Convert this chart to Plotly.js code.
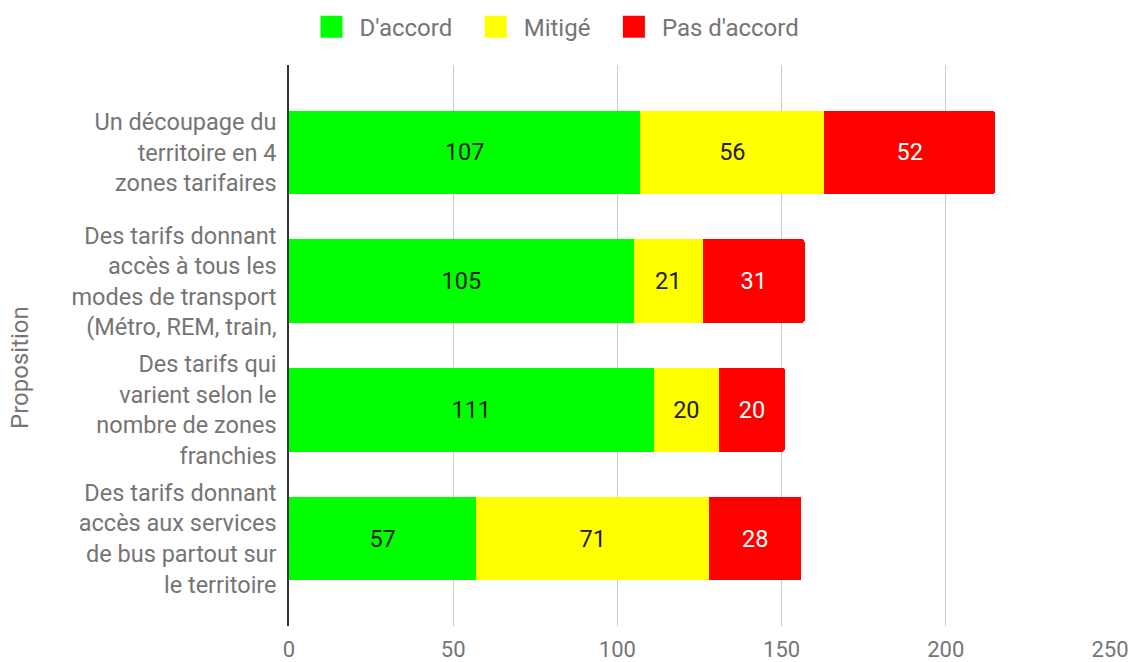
<!DOCTYPE html>
<html>
<head>
<meta charset="utf-8">
<script src="https://cdn.plot.ly/plotly-3.0.1.min.js"></script>
<style>
  html, body { margin: 0; padding: 0; background: #fff; }
  #chart { width: 1131px; height: 662px; }
</style>
</head>
<body>
<div id="chart"></div>
<script>
// Propositions (category labels, line-broken as displayed)
const propositions = [
  "Un découpage du<br>territoire en 4<br>zones tarifaires",
  "Des tarifs donnant<br>accès à tous les<br>modes de transport<br>(Métro, REM, train,",
  "Des tarifs qui<br>varient selon le<br>nombre de zones<br>franchies",
  "Des tarifs donnant<br>accès aux services<br>de bus partout sur<br>le territoire"
];

// Responses per proposition
const daccord = [107, 105, 111, 57];
const mitige = [56, 21, 20, 71];
const pasDaccord = [52, 31, 20, 28];

const seriesNames = ["D'accord", "Mitigé", "Pas d'accord"];
const seriesColors = ["#00ff00", "#ffff00", "#ff0000"];
const textColors = ["#212121", "#212121", "#ffffff"];

const fontFamily = "Roboto, 'Noto Sans', sans-serif";
const grey = "#757575";

function makeTrace(values, i) {
  return {
    type: "bar",
    orientation: "h",
    name: seriesNames[i],
    y: propositions,
    x: values,
    marker: { color: seriesColors[i], line: { width: 0 } },
    text: values.map(String),
    textposition: "inside",
    insidetextanchor: "middle",
    textangle: 0,
    textfont: { family: fontFamily, size: 23.5, color: textColors[i] },
    hoverinfo: "x+name"
  };
}

const data = [
  makeTrace(daccord, 0),
  makeTrace(mitige, 1),
  makeTrace(pasDaccord, 2)
];

const layout = {
  width: 1131,
  height: 662,
  paper_bgcolor: "#ffffff",
  plot_bgcolor: "#ffffff",
  barmode: "stack",
  bargap: 0.35,
  barcornerradius: 3,
  margin: { l: 289, r: 21, t: 65, b: 36 },
  font: { family: fontFamily, size: 23, color: grey },
  showlegend: true,
  legend: {
    orientation: "h",
    xref: "container",
    yref: "container",
    x: 0.4925,
    xanchor: "center",
    y: 0.993,
    yanchor: "top",
    font: { family: fontFamily, size: 24, color: grey },
    itemwidth: 40,
    traceorder: "normal"
  },
  xaxis: {
    range: [0, 250],
    tickvals: [0, 50, 100, 150, 200, 250],
    ticktext: ["0", "50", "100", "150", "200", "250"],
    showgrid: true,
    gridcolor: "#cccccc",
    gridwidth: 1,
    zeroline: false,
    showline: false,
    ticks: "outside",
    ticklen: 4,
    tickcolor: "rgba(0,0,0,0)",
    tickfont: { family: fontFamily, size: 22, color: grey },
    fixedrange: true
  },
  yaxis: {
    type: "category",
    range: [3.68, -0.68],
    showgrid: false,
    zeroline: false,
    showline: true,
    linecolor: "#333333",
    linewidth: 1.5,
    ticks: "outside",
    ticklen: 6,
    tickcolor: "rgba(0,0,0,0)",
    tickfont: { family: fontFamily, size: 23.5, color: grey },
    automargin: false,
    fixedrange: true
  },
  annotations: [{
    // vertical axis title
    text: "Proposition",
    xref: "paper",
    yref: "paper",
    x: -0.3277,
    y: 0.4617,
    xanchor: "center",
    yanchor: "middle",
    textangle: -90,
    showarrow: false,
    font: { family: fontFamily, size: 24, color: grey }
  }]
};

// Legend styling: 22px square swatches 17px before each label,
// and wider spacing between entries (kept centred).
const ENTRY_GAP = 16.5;
function styleLegend() {
  const legend = document.querySelector("#chart .legend");
  if (!legend) return;
  const scroll = legend.querySelector(".scrollbox");
  if (scroll) scroll.removeAttribute("clip-path");
  const items = Array.from(legend.querySelectorAll(".traces"));
  const mid = (items.length - 1) / 2;
  items.forEach(function (item, i) {
    const path = item.querySelector(".legendpoints path");
    const label = item.querySelector("text.legendtext");
    if (path && label) {
      path.setAttribute("d", "M11,11H-11V-11H11Z");
      const pr = path.getBoundingClientRect();
      const tr = label.getBoundingClientRect();
      const dx = (tr.left - 17) - pr.right;
      const l = -11 + dx, r = 11 + dx;
      path.setAttribute("d", "M" + r + ",11H" + l + "V-11H" + r + "Z");
    }
    const m = /translate\(\s*([-\d.]+)[ ,]+([-\d.]+)\s*\)/.exec(item.getAttribute("transform") || "");
    if (m) {
      const x = parseFloat(m[1]) + ENTRY_GAP * (i - mid);
      item.setAttribute("transform", "translate(" + x + "," + m[2] + ")");
    }
  });
}

Plotly.newPlot("chart", data, layout, { displayModeBar: false }).then(styleLegend);
</script>
</body>
</html>
